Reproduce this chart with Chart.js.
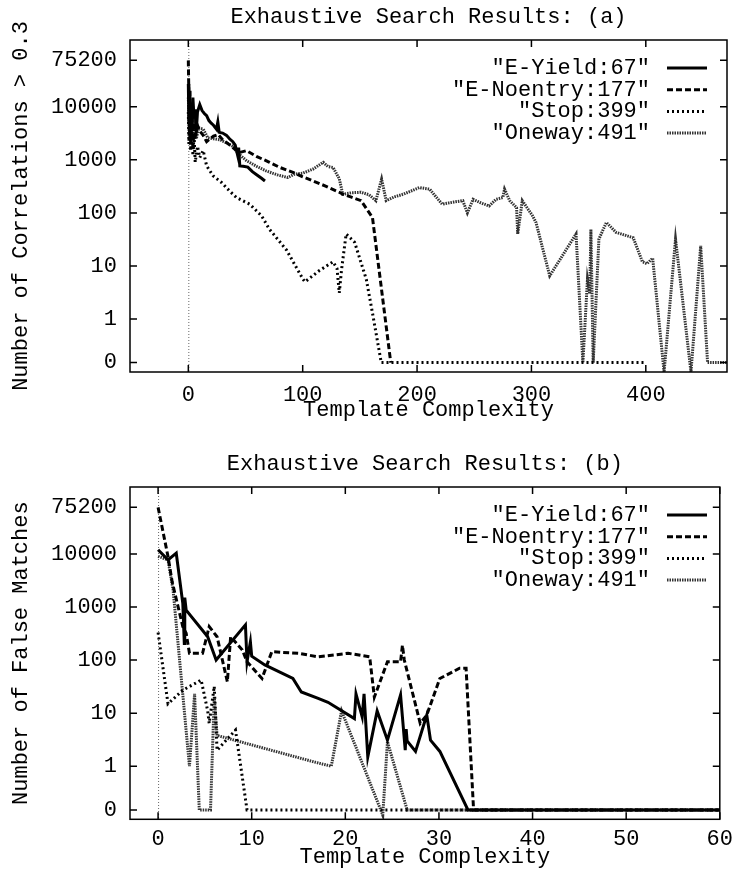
<!DOCTYPE html>
<html><head><meta charset="utf-8">
<script src="https://cdn.jsdelivr.net/npm/chart.js@4"></script>
<style>
html,body{margin:0;padding:0;background:#fff;}
#wrap{position:relative;width:740px;height:874px;background:#fff;}
canvas{position:absolute;left:0;}
</style></head><body>
<div id="wrap">
<canvas id="ca" width="740" height="447" style="top:0px"></canvas>
<canvas id="cb" width="740" height="427" style="top:447px"></canvas>
</div>
<script>
// ---------- labels / ticks ----------
const seriesLabels = ['E-Yield:67', 'E-Noentry:177', 'Stop:399', 'Oneway:491'];
const yTickValues = [0, 1, 10, 100, 1000, 10000, 75200];
const yTickLabels = ['0', '1', '10', '100', '1000', '10000', '75200'];
const xTicksA = [0, 100, 200, 300, 400];
const xTicksB = [0, 10, 20, 30, 40, 50, 60];
const titleA = 'Exhaustive Search Results: (a)';
const titleB = 'Exhaustive Search Results: (b)';
const yTitleA = 'Number of Correlations > 0.3';
const yTitleB = 'Number of False Matches';
const xTitle = 'Template Complexity';

// ---------- plot (a) data ----------
const aYieldX = [0, 0.5, 1, 1.5, 2, 3, 4, 5, 6, 7, 8, 10, 12, 14, 16, 18, 20, 22, 24.6, 25.8, 27, 30, 33.4, 36, 38.9, 41, 43.2, 44, 45, 48, 52, 56, 60, 64, 67];
const aYieldY = [27000, 5000, 18000, 2500, 12000, 4000, 15000, 6000, 9000, 3500, 8000, 11000, 8500, 7500, 6800, 5500, 4900, 4500, 3800, 5200, 3300, 3200, 2900, 2500, 2200, 1900, 1200, 1700, 770, 760, 730, 600, 520, 450, 400];

const aNoentryX = [0, 0.5, 1, 1.5, 2, 3, 4, 5, 6, 8, 10, 13, 16, 19, 22, 26, 30, 35, 40.6, 45, 50.8, 60, 71, 80, 91.5, 100, 109, 120, 132, 135, 142, 151, 161, 177];
const aNoentryY = [75200, 15000, 3000, 20000, 2000, 8000, 1500, 5000, 2500, 4500, 3500, 2900, 2200, 2500, 2800, 3000, 2400, 2000, 1600, 1380, 1490, 1150, 900, 720, 580, 480, 400, 320, 245, 225, 200, 170, 82, 0];

const aStopX = [0, 0.5, 1, 2, 3, 4, 5, 6, 8, 10, 13, 16, 21.7, 29, 36, 42, 53.7, 64, 71, 85.8, 100.3, 102, 114, 126.5, 130, 132, 134, 138, 145.4, 155.6, 161, 168.7, 399];
const aStopY = [8000, 2000, 10000, 1500, 5000, 1200, 3000, 900, 1800, 1100, 1500, 770, 500, 375, 260, 195, 146, 88, 49, 20, 5.6, 5, 8, 12, 9, 3.1, 8.6, 40, 28, 5.6, 1.3, 0, 0];

const aOnewayX = [0, 1, 2, 3, 5, 7, 9, 13, 17, 22, 27.5, 33, 38, 44, 51, 60, 68, 78, 87, 93, 100, 109, 118, 122, 126.5, 132, 135, 143, 151, 158, 164, 169, 173, 180, 188, 202, 211, 222, 232, 240, 244, 249, 255, 263, 269, 275, 276.5, 281, 287, 288, 292, 301, 304, 316, 339, 345, 349, 351, 352, 354, 359, 365.5, 374, 389, 397, 401, 406, 416, 426, 439.5, 448, 454, 491];
const aOnewayY = [15000, 3000, 8000, 2000, 5000, 2500, 4000, 3800, 2600, 2500, 2400, 2100, 1850, 1300, 960, 750, 620, 520, 465, 540, 560, 670, 900, 750, 720, 440, 225, 240, 245, 220, 170, 435, 170, 200, 225, 300, 280, 146, 160, 170, 100, 180, 157, 135, 180, 195, 280, 170, 126, 40, 170, 88, 66, 6.5, 40, 0, 5.6, 3, 49, 0, 32, 66, 43, 34, 12, 11, 14, 0.1, 32, 0.1, 24, 0, 0];

// ---------- plot (b) data ----------
const bYieldX = [0, 1.06, 1.94, 2.64, 2.8, 2.85, 3.0, 5.3, 6.2, 9.33, 9.5, 9.7, 9.86, 10, 11.4, 14.4, 15.3, 17.1, 18.15, 20.97, 21.14, 21.8, 22.0, 22.4, 23.4, 24.5, 25.9, 26.4, 26.5, 26.6, 27.5, 28.7, 29.1, 30.1, 33.1, 67];
const bYieldY = [12000, 7700, 10300, 1170, 206, 1500, 870, 275, 100, 460, 93, 150, 220, 118, 81, 45, 25, 19, 16, 7.9, 23, 8.5, 23, 1.5, 11, 3.1, 22, 2, 5, 3, 1.9, 9.2, 3.1, 1.9, 0, 0];

const bNoentryX = [0, 1.06, 1.5, 2.64, 3.0, 3.35, 4.75, 5.46, 6.3, 7.4, 7.75, 9.0, 9.5, 11.1, 12.15, 13.2, 15, 17.1, 20.3, 22.6, 23.1, 24.5, 25.9, 26.1, 26.3, 28, 28.7, 30.1, 32.2, 32.9, 33.7, 177];
const bNoentryY = [75200, 8900, 3000, 426, 320, 134, 134, 426, 275, 39, 275, 155, 93, 45, 144, 140, 134, 115, 134, 115, 20, 93, 93, 190, 100, 6.4, 9.2, 45, 70, 70, 0, 0];

const bStopX = [0, 1.06, 2.64, 4.6, 5.3, 5.46, 6.0, 6.3, 7.2, 8.27, 9.5, 399];
const bStopY = [330, 15, 27, 42, 11, 6.4, 32, 2, 3, 4.8, 0, 0];

const bOnewayX = [0, 1.06, 1.6, 3.35, 3.9, 4.4, 5.6, 6.0, 6.3, 16.7, 18.5, 19.6, 24.0, 24.5, 26.6, 491];
const bOnewayY = [9000, 7700, 2100, 1, 23, 0, 0, 20, 3.8, 1.2, 1, 11, 0.12, 2.9, 0, 0];

// ---------- scale transform ----------
const ZERO_POS = -0.823;
function tf(v) { return v > 0 ? Math.log10(v) : ZERO_POS; }
function pts(xs, ys) { return xs.map((x, i) => ({ x: x, y: tf(ys[i]) })); }

const FONT = { family: "'Liberation Mono', 'DejaVu Sans Mono', monospace", size: 22, weight: 'normal' };
const styles = [
  { color: '#000', width: 3, dash: [] },
  { color: '#000', width: 3, dash: [6, 3] },
  { color: '#000', width: 3, dash: [2, 3] },
  { color: '#333', width: 3, dash: [1.5, 1] }
];

function makeDatasets(seriesList) {
  return seriesList.map((s, i) => ({
    label: seriesLabels[i],
    data: pts(s[0], s[1]),
    borderColor: styles[i].color,
    borderWidth: styles[i].width,
    borderDash: styles[i].dash,
    pointRadius: 0,
    fill: false,
    tension: 0
  }));
}

const decor = {
  id: 'decor',
  beforeDatasetsDraw(chart) {
    const { ctx, chartArea: a, scales: { x } } = chart;
    const px = x.getPixelForValue(0);
    ctx.save();
    ctx.strokeStyle = '#666';
    ctx.lineWidth = 1;
    ctx.setLineDash([1, 2]);
    ctx.beginPath();
    ctx.moveTo(px + 0.5, a.top);
    ctx.lineTo(px + 0.5, a.bottom);
    ctx.stroke();
    ctx.restore();
  },
  afterDraw(chart) {
    const { ctx, chartArea: a, scales: { x, y } } = chart;
    ctx.save();
    ctx.strokeStyle = '#000';
    ctx.lineWidth = 1.5;
    ctx.setLineDash([]);
    // inward ticks
    ctx.beginPath();
    x.ticks.forEach(t => {
      const p = x.getPixelForValue(t.value);
      ctx.moveTo(p, a.bottom); ctx.lineTo(p, a.bottom - 7);
      ctx.moveTo(p, a.top); ctx.lineTo(p, a.top + 7);
    });
    y.ticks.forEach(t => {
      const p = y.getPixelForValue(t.value);
      ctx.moveTo(a.left, p); ctx.lineTo(a.left + 7, p);
      ctx.moveTo(a.right, p); ctx.lineTo(a.right - 7, p);
    });
    ctx.stroke();
    // frame
    ctx.strokeRect(a.left, a.top, a.right - a.left, a.bottom - a.top);
    // legend
    ctx.font = `${FONT.size}px ${FONT.family}`;
    ctx.fillStyle = '#000';
    ctx.textAlign = 'right';
    ctx.textBaseline = 'middle';
    chart.data.datasets.forEach((ds, i) => {
      const ly = a.top + 28 + i * 21.7;
      ctx.fillText('"' + ds.label + '"', 650, ly);
      ctx.save();
      ctx.strokeStyle = ds.borderColor;
      ctx.lineWidth = ds.borderWidth;
      ctx.setLineDash(ds.borderDash);
      ctx.beginPath();
      ctx.moveTo(667, ly); ctx.lineTo(707, ly);
      ctx.stroke();
      ctx.restore();
    });
    ctx.restore();
  }
};

function makeChart(id, title, yTitle, xMin, xMax, xTicks, series, xAxisHeight, xLabelPad, xTitlePad) {
  return new Chart(document.getElementById(id), {
    type: 'line',
    data: { datasets: makeDatasets(series) },
    plugins: [decor],
    options: {
      responsive: false,
      animation: false,
      devicePixelRatio: 1,
      layout: { padding: { left: 0, right: 13, top: 0, bottom: 0 } },
      plugins: {
        legend: { display: false },
        tooltip: { enabled: false },
        title: {
          display: true, text: title, fullSize: false, color: '#000',
          font: FONT, padding: { top: 4, bottom: 9.6 }
        }
      },
      scales: {
        x: {
          type: 'linear', min: xMin, max: xMax,
          afterBuildTicks: s => { s.ticks = xTicks.map(v => ({ value: v })); },
          afterFit: s => { s.height = xAxisHeight; },
          grid: { display: false, drawTicks: false },
          border: { display: false },
          ticks: { color: '#000', font: FONT, padding: xLabelPad, autoSkip: false, maxRotation: 0,
                   callback: v => String(v) },
          title: { display: true, text: xTitle, color: '#000', font: FONT, padding: { top: 0, bottom: xTitlePad } }
        },
        y: {
          type: 'linear', min: -1, max: 5.26,
          afterBuildTicks: s => { s.ticks = yTickValues.map(v => ({ value: tf(v) })); },
          afterFit: s => { s.width = 130; },
          grid: { display: false, drawTicks: false },
          border: { display: false },
          ticks: { color: '#000', font: FONT, padding: 13, autoSkip: false,
                   callback: (v, i) => yTickLabels[i] },
          title: { display: true, text: yTitle, color: '#000', font: FONT, padding: { top: 8, bottom: 0 } }
        }
      }
    }
  });
}

makeChart('ca', titleA, yTitleA, -51, 471, xTicksA,
  [[aYieldX, aYieldY], [aNoentryX, aNoentryY], [aStopX, aStopY], [aOnewayX, aOnewayY]],
  75, 10, 23.8);
makeChart('cb', titleB, yTitleB, -3, 60, xTicksB,
  [[bYieldX, bYieldY], [bNoentryX, bNoentryY], [bStopX, bStopY], [bOnewayX, bOnewayY]],
  54.7, 7, 3.8);
</script>
</body></html>
